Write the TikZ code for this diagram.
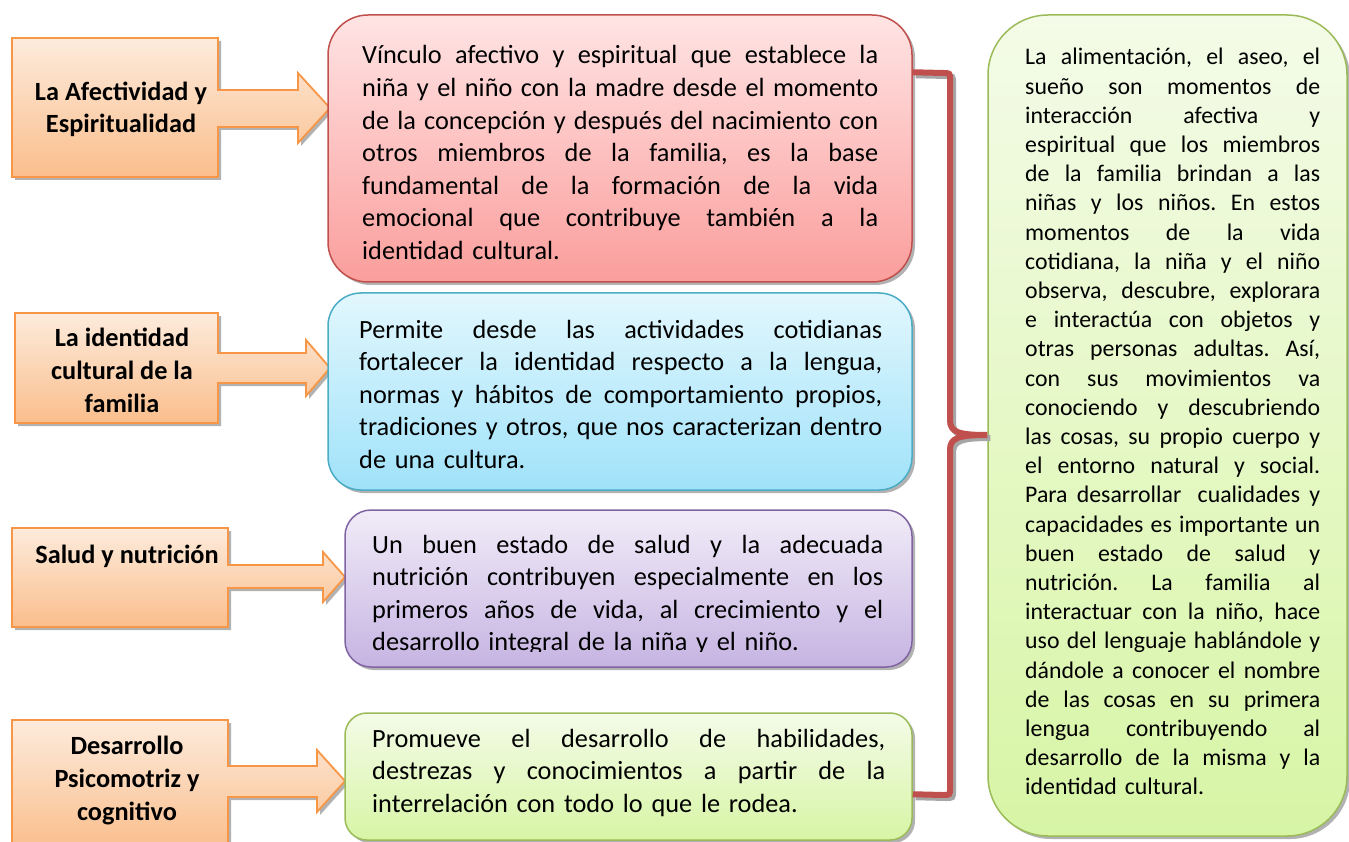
\documentclass[tikz,border=0pt]{standalone}
\usepackage{fontspec}
\setmainfont{Carlito}
\usetikzlibrary{shadows}
\definecolor{NaranjaLinea}{RGB}{247,150,70}
\definecolor{NaranjaClaro}{RGB}{253,235,220}
\definecolor{NaranjaOsc}{RGB}{250,190,140}
\definecolor{RojoLinea}{RGB}{192,80,77}
\definecolor{RojoClaro}{RGB}{255,228,228}
\definecolor{RojoOsc}{RGB}{250,158,156}
\definecolor{AzulLinea}{RGB}{75,172,198}
\definecolor{AzulClaro}{RGB}{226,247,253}
\definecolor{AzulOsc}{RGB}{160,226,250}
\definecolor{LilaLinea}{RGB}{128,100,162}
\definecolor{LilaClaro}{RGB}{241,236,248}
\definecolor{LilaOsc}{RGB}{198,180,226}
\definecolor{VerdeLinea}{RGB}{155,187,89}
\definecolor{VerdeClaro}{RGB}{244,251,232}
\definecolor{VerdeOsc}{RGB}{215,245,165}
\newcommand{\cuerpo}{\fontsize{26.3pt}{32.6pt}\selectfont}
\newcommand{\lateral}{\fontsize{23.8pt}{29.2pt}\selectfont}
\newlength{\ancho}
\newcommand{\jlinea}[1]{\hbox to \ancho{\spaceskip=0.226em plus 1fil\relax #1}\par}
\frenchspacing

\begin{document}
\begin{tikzpicture}[x=1pt, y=-1pt,
    sombra/.style={drop shadow={shadow xshift=3pt, shadow yshift=-3pt,
                   fill=black!30, opacity=1}},
    flecha/.style={draw=NaranjaLinea, line width=1.8pt, top color=NaranjaClaro,
                   bottom color=NaranjaOsc, sombra},
    caja/.style={rectangle, line width=1.5pt, inner sep=0pt, sombra},
    roja/.style={caja, draw=RojoLinea, top color=RojoClaro, bottom color=RojoOsc,
                 rounded corners=40pt, minimum width=584pt, minimum height=267pt},
    azul/.style={caja, draw=AzulLinea, top color=AzulClaro, bottom color=AzulOsc,
                 rounded corners=33pt, minimum width=584pt, minimum height=197pt},
    lila/.style={caja, draw=LilaLinea, top color=LilaClaro, bottom color=LilaOsc,
                 rounded corners=26pt, minimum width=567pt, minimum height=157pt},
    verde/.style={caja, draw=VerdeLinea, top color=VerdeClaro, bottom color=VerdeOsc,
                  rounded corners=22pt},
    etiq/.style={font=\cuerpo\bfseries, align=center, anchor=base, inner sep=0pt},
    texto/.style={font=\cuerpo, inner sep=0pt, anchor=base west, text width=#1,
                  execute at begin node={\setlength{\ancho}{#1}}},
    llave/.style={draw=RojoLinea, line width=6pt,
                  preaction={draw=black!35, line width=6pt,
                             transform canvas={shift={(3pt,-3pt)}}}}
]
\path[use as bounding box, fill=white] (0,0) rectangle (1349,842);

% flechas naranjas
\draw[flecha] (12,38) -- (218,38) -- (218,90) -- (298,90) -- (298,73) -- (330,108)
  -- (298,143) -- (298,127) -- (218,127) -- (218,177) -- (12,177) -- cycle;
\draw[flecha] (15,313) -- (218,313) -- (218,353) -- (306,353) -- (306,340) -- (330,368)
  -- (306,396) -- (306,383) -- (218,383) -- (218,423) -- (15,423) -- cycle;
\draw[flecha] (12,528) -- (228,528) -- (228,565) -- (323,565) -- (323,552) -- (345,577)
  -- (323,602) -- (323,588) -- (228,588) -- (228,627) -- (12,627) -- cycle;
\draw[flecha] (12,720) -- (228,720) -- (228,766) -- (317,766) -- (317,750) -- (345,781)
  -- (317,812) -- (317,797) -- (228,797) -- (228,850) -- (12,850) -- cycle;

% base = ultima linea
\node[etiq] (afect)  at (121,133) {La Afectividad y\\Espiritualidad};
\node[etiq] (ident)  at (122,412) {La identidad\\cultural de la\\familia};
\node[etiq] (salud)  at (127,563) {Salud y nutrición};
\node[etiq] (desarr) at (127,820) {Desarrollo\\Psicomotriz y\\cognitivo};

% cajas centrales
\node[roja] (rojo) at (620,148.5) {};
\node[azul] (celeste) at (620,391.5) {};
\node[lila] (morado) at (628.5,588.5) {};
\node[verde, minimum width=567pt, minimum height=127pt] (verdoso) at (628.5,776.5) {};
\node[verde, rounded corners=60pt, minimum width=359pt, minimum height=821pt]
  (derecha) at (1167.5,425.5) {};

\node[texto=516pt] (rojotxt) at (362,64) {%
\jlinea{Vínculo afectivo y espiritual que establece la}
\jlinea{niña y el niño con la madre desde el momento}
\jlinea{de la concepción y después del nacimiento con}
\jlinea{otros miembros de la familia, es la base}
\jlinea{fundamental de la formación de la vida}
\jlinea{emocional que contribuye también a la}
identidad cultural.};

\node[texto=523pt] (celestetxt) at (359,338) {%
\jlinea{Permite desde las actividades cotidianas}
\jlinea{fortalecer la identidad respecto a la lengua,}
\jlinea{normas y hábitos de comportamiento propios,}
\jlinea{tradiciones y otros, que nos caracterizan dentro}
de una cultura.};

\begin{scope}
\clip (340,505) rectangle (915,651);
\node[texto=511pt] (moradotxt) at (372,553) {%
\jlinea{Un buen estado de salud y la adecuada}
\jlinea{nutrición contribuyen especialmente en los}
\jlinea{primeros años de vida, al crecimiento y el}
desarrollo integral de la niña y el niño.};
\end{scope}

\node[texto=513pt] (verdosotxt) at (372,747) {%
\jlinea{Promueve el desarrollo de habilidades,}
\jlinea{destrezas y conocimientos a partir de la}
interrelación con todo lo que le rodea.};

\node[texto=295pt, font=\lateral] (derechatxt) at (1025,65) {%
\jlinea{La alimentación, el aseo, el}
\jlinea{sueño son momentos de}
\jlinea{interacción afectiva y}
\jlinea{espiritual que los miembros}
\jlinea{de la familia brindan a las}
\jlinea{niñas y los niños. En estos}
\jlinea{momentos de la vida}
\jlinea{cotidiana, la niña y el niño}
\jlinea{observa, descubre, explorara}
\jlinea{e interactúa con objetos y}
\jlinea{otras personas adultas. Así,}
\jlinea{con sus movimientos va}
\jlinea{conociendo y descubriendo}
\jlinea{las cosas, su propio cuerpo y}
\jlinea{el entorno natural y social.}
\jlinea{Para desarrollar\hspace{0.3em} cualidades y}
\jlinea{capacidades es importante un}
\jlinea{buen estado de salud y}
\jlinea{nutrición. La familia al}
\jlinea{interactuar con la niño, hace}
\jlinea{uso del lenguaje hablándole y}
\jlinea{dándole a conocer el nombre}
\jlinea{de las cosas en su primera}
\jlinea{lengua contribuyendo al}
\jlinea{desarrollo de la misma y la}
identidad cultural.};

% llave roja
\coordinate (ltop) at ([yshift=-58pt]rojo.north east);
\coordinate (lbot) at ([yshift=-82pt]verdoso.north east);
\coordinate (lpun) at ([yshift=-9.5pt]derecha.west);
\draw[llave] (ltop) -- (943,73) .. controls (950,73) .. (950,80) -- (950,420)
  .. controls (950,432) and (958,435) .. (lpun)
  .. controls (958,435) and (950,438) .. (950,450) -- (950,788)
  .. controls (950,795) .. (943,795) -- (lbot);
\end{tikzpicture}
\end{document}
